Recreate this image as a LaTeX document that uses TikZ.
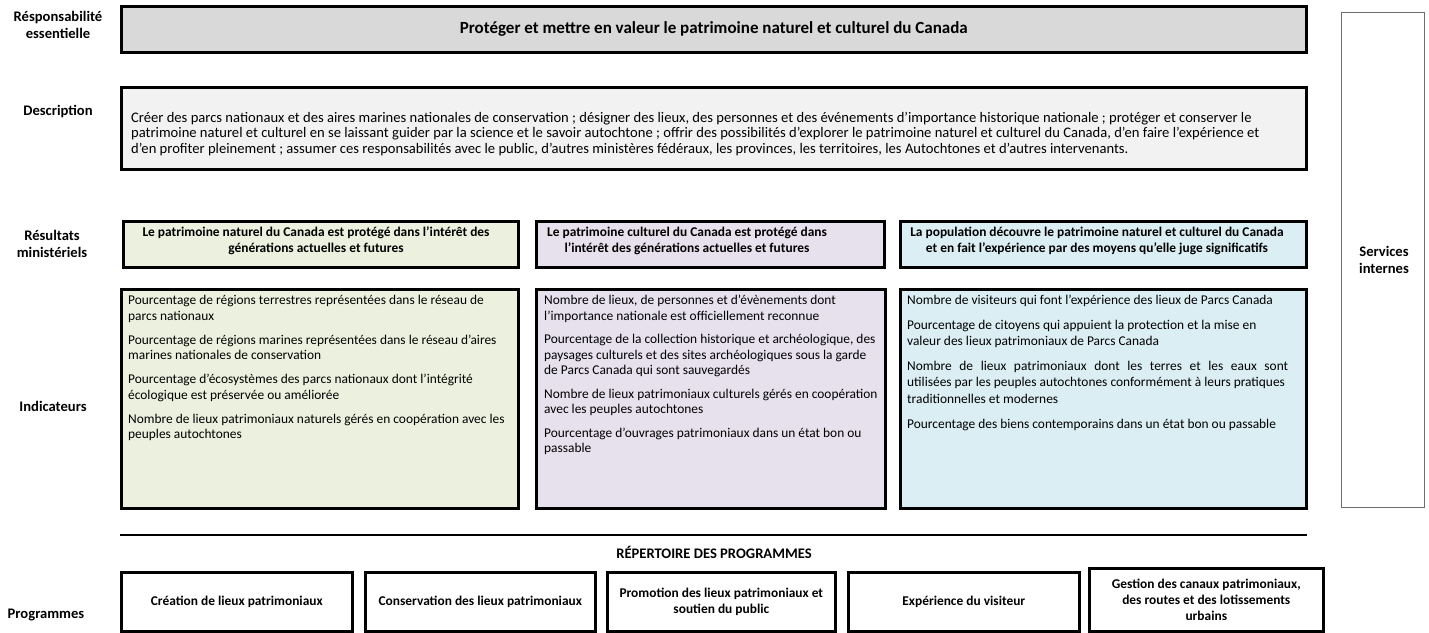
\documentclass[tikz,border=0pt]{standalone}
\usepackage{fontspec}
\setmainfont{Carlito}
\definecolor{topgray}{HTML}{D9D9D9}
\definecolor{descgray}{HTML}{F2F2F2}
\definecolor{natgreen}{HTML}{EBF1DE}
\definecolor{cultpurple}{HTML}{E6E1EC}
\definecolor{popblue}{HTML}{DBEEF3}
\definecolor{thingray}{HTML}{6E6E6E}
\begin{document}
\begin{tikzpicture}[x=1pt,y=-1pt,
  frame/.style={draw=black, line width=2.6pt, inner sep=0pt, anchor=north west},
  rowlabel/.style={font=\bfseries\fontsize{14.6}{16.5}\selectfont, align=center, inner sep=0pt},
  boldtxt/.style={font=\bfseries\fontsize{13.4}{16.5}\selectfont, align=center, inner sep=0pt},
  bodytxt/.style={font=\fontsize{13.4}{15.5}\selectfont, align=left, inner sep=0pt, anchor=north west},
  progbox/.style={frame, fill=white, minimum height=59pt, font=\bfseries\fontsize{13.4}{16}\selectfont, align=center}
]
\useasboundingbox (0,0) rectangle (1429,632);
\fill[white] (0,0) rectangle (1429,632);

% row labels
\node[rowlabel] (lresp) at (58,25) {Résponsabilité\\essentielle};
\node[rowlabel] (ldesc) at (58,112) {Description};
\node[rowlabel] (lres) at (52,244) {Résultats\\ministériels};
\node[rowlabel] (lind) at (53,406) {Indicateurs};
\node[rowlabel] (lprog) at (46,615) {Programmes};

% core responsibility
\node[frame, fill=topgray, minimum width=1185pt, minimum height=46pt,
      font=\bfseries\fontsize{17}{20}\selectfont] (resp) at (120,5)
  {Protéger et mettre en valeur le patrimoine naturel et culturel du Canada};

% description
\node[frame, fill=descgray, minimum width=1185pt, minimum height=82pt] (desc) at (120,86) {};
\node[bodytxt, anchor=west, font=\fontsize{14.6}{15.5}\selectfont] (desctxt) at (131,134)
  {Créer des parcs nationaux et des aires marines nationales de conservation ; désigner des lieux, des personnes et des événements d’importance historique nationale ; protéger et conserver le\\
   patrimoine naturel et culturel en se laissant guider par la science et le savoir autochtone ; offrir des possibilités d’explorer le patrimoine naturel et culturel du Canada, d’en faire l’expérience et\\
   d’en profiter pleinement ; assumer ces responsabilités avec le public, d’autres ministères fédéraux, les provinces, les territoires, les Autochtones et d’autres intervenants.};

% services internes
\node[draw=thingray, line width=1.3pt, anchor=north west, minimum width=83pt, minimum height=495pt, inner sep=0pt] (serv) at (1341,12) {};
\node[rowlabel] (servtxt) at (1384,260) {Services\\internes};

% departmental results
\node[frame, fill=natgreen, minimum width=395pt, minimum height=46pt] (r1) at (122,220) {};
\node[boldtxt] (r1txt) at (316,241) {Le patrimoine naturel du Canada est protégé dans l’intérêt des\\générations actuelles et futures};
\node[frame, fill=cultpurple, minimum width=348pt, minimum height=46pt] (r2) at (535,220) {};
\node[boldtxt] (r2txt) at (687,241) {Le patrimoine culturel du Canada est protégé dans\\l’intérêt des générations actuelles et futures};
\node[frame, fill=popblue, minimum width=406pt, minimum height=46pt] (r3) at (899,220) {};
\node[boldtxt] (r3txt) at (1097,241) {La population découvre le patrimoine naturel et culturel du Canada\\et en fait l’expérience par des moyens qu’elle juge significatifs};

% indicators
\node[frame, fill=natgreen, minimum width=397pt, minimum height=219pt] (i1) at (120,288) {};
\node[bodytxt] (i1txt) at (128,295)
  {Pourcentage de régions terrestres représentées dans le réseau de\\
   parcs nationaux\\[8.5pt]
   Pourcentage de régions marines représentées dans le réseau d’aires\\
   marines nationales de conservation\\[8.5pt]
   Pourcentage d’écosystèmes des parcs nationaux dont l’intégrité\\
   écologique est préservée ou améliorée\\[8.5pt]
   Nombre de lieux patrimoniaux naturels gérés en coopération avec les\\
   peuples autochtones};
\node[frame, fill=cultpurple, minimum width=349pt, minimum height=219pt] (i2) at (535,288) {};
\node[bodytxt] (i2txt) at (544,295)
  {Nombre de lieux, de personnes et d’évènements dont\\
   l’importance nationale est officiellement reconnue\\[8pt]
   Pourcentage de la collection historique et archéologique, des\\
   paysages culturels et des sites archéologiques sous la garde\\
   de Parcs Canada qui sont sauvegardés\\[8pt]
   Nombre de lieux patrimoniaux culturels gérés en coopération\\
   avec les peuples autochtones\\[8pt]
   Pourcentage d’ouvrages patrimoniaux dans un état bon ou\\
   passable};
\node[frame, fill=popblue, minimum width=406pt, minimum height=219pt] (i3) at (899,288) {};
\node[bodytxt] (i3txt) at (907,295)
  {Nombre de visiteurs qui font l’expérience des lieux de Parcs Canada\\[9.5pt]
   Pourcentage de citoyens qui appuient la protection et la mise en\\
   valeur des lieux patrimoniaux de Parcs Canada\\[9.5pt]
   \makebox[381pt][s]{Nombre de lieux patrimoniaux dont les terres et les eaux sont}\\[1pt]
   utilisées par les peuples autochtones conformément à leurs pratiques\\[1pt]
   traditionnelles et modernes\\[9.5pt]
   Pourcentage des biens contemporains dans un état bon ou passable};

% program inventory
\coordinate (hl) at (120,535);
\coordinate (hr) at (1307,535);
\draw[line width=2pt] (hl) -- (hr);
\node[rowlabel] (rep) at (714,552) {RÉPERTOIRE DES PROGRAMMES};
\node[progbox, minimum width=231pt] (p1) at (120,571) {Création de lieux patrimoniaux};
\node[progbox, minimum width=230pt] (p2) at (364,571) {Conservation des lieux patrimoniaux};
\node[progbox, minimum width=228pt] (p3) at (606,571) {Promotion des lieux patrimoniaux et\\soutien du public};
\node[progbox, minimum width=231pt] (p4) at (847,571) {Expérience du visiteur};
\node[progbox, minimum width=234pt, minimum height=63pt] (p5) at (1088,567) {Gestion des canaux patrimoniaux,\\des routes et des lotissements\\urbains};
\end{tikzpicture}
\end{document}
